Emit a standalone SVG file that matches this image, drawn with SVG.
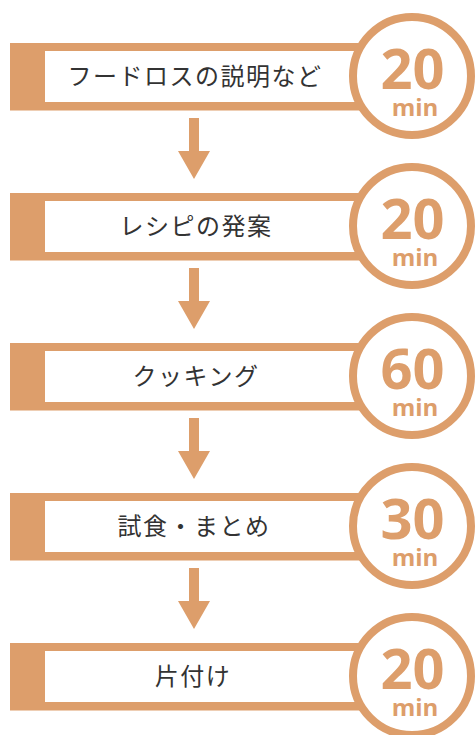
<svg xmlns="http://www.w3.org/2000/svg" width="476" height="735" viewBox="0 0 476 735">
<style>
.bar{fill:#dd9e6b}
.inner{fill:#ffffff}
.ring{fill:#ffffff;stroke:#dd9e6b;stroke-width:8}
.lbl{font-family:"Noto Sans CJK JP","Noto Sans",sans-serif;font-size:24px;letter-spacing:1.5px;fill:#333333;text-anchor:middle}
.num{font-family:"Open Sans","Noto Sans",sans-serif;font-weight:bold;font-size:56px;fill:#dd9e6b;text-anchor:middle}
.min{font-family:"Open Sans","Noto Sans",sans-serif;font-weight:bold;font-size:24px;fill:#dd9e6b;text-anchor:middle}
.arr{fill:#dd9e6b}
</style>
<defs>
<path id="arrow" d="M189 118 H199 V151 H210 L194 179 L178 151 H189 Z"/>
</defs>
<g id="connectors">
<use href="#arrow" class="arr"/>
<use href="#arrow" class="arr" y="150"/>
<use href="#arrow" class="arr" y="300"/>
<use href="#arrow" class="arr" y="450"/>
</g>
<g id="step1">
<rect class="bar" x="10" y="43" width="400" height="67.5"/>
<rect class="inner" x="45" y="51" width="360" height="51"/>
<circle class="ring" cx="412" cy="76" r="59"/>
<text class="lbl" x="195" y="85">フードロスの説明など</text>
<text class="num" x="412.5" y="89">20</text>
<text class="min" x="415" y="116">min</text>
</g>
<g id="step2">
<rect class="bar" x="10" y="193" width="400" height="67.5"/>
<rect class="inner" x="45" y="201" width="360" height="51"/>
<circle class="ring" cx="412" cy="226" r="59"/>
<text class="lbl" x="196" y="235">レシピの発案</text>
<text class="num" x="412.5" y="239">20</text>
<text class="min" x="415" y="266">min</text>
</g>
<g id="step3">
<rect class="bar" x="10" y="343" width="400" height="67.5"/>
<rect class="inner" x="45" y="351" width="360" height="51"/>
<circle class="ring" cx="412" cy="376" r="59"/>
<text class="lbl" x="196" y="385">クッキング</text>
<text class="num" x="412.5" y="389">60</text>
<text class="min" x="415" y="416">min</text>
</g>
<g id="step4">
<rect class="bar" x="10" y="493" width="400" height="67.5"/>
<rect class="inner" x="45" y="501" width="360" height="51"/>
<circle class="ring" cx="412" cy="526" r="59"/>
<text class="lbl" x="194" y="535">試食・まとめ</text>
<text class="num" x="412.5" y="539">30</text>
<text class="min" x="415" y="566">min</text>
</g>
<g id="step5">
<rect class="bar" x="10" y="643" width="400" height="67.5"/>
<rect class="inner" x="45" y="651" width="360" height="51"/>
<circle class="ring" cx="412" cy="676" r="59"/>
<text class="lbl" x="193" y="685">片付け</text>
<text class="num" x="412.5" y="689">20</text>
<text class="min" x="415" y="716">min</text>
</g>
</svg>
